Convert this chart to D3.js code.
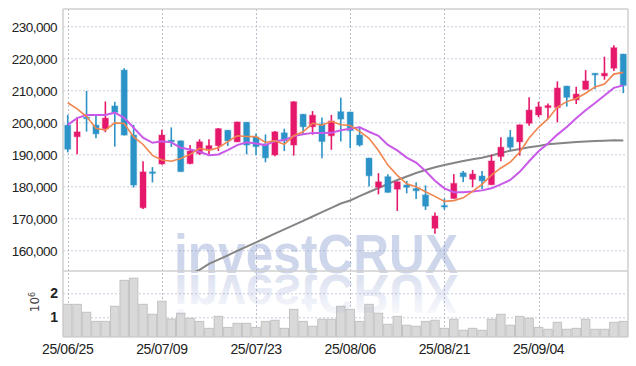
<!DOCTYPE html>
<html><head><meta charset="utf-8">
<script src="https://cdn.jsdelivr.net/npm/d3@7/dist/d3.min.js"></script>
<style>
html,body{margin:0;padding:0;background:#fff;}
svg{display:block;}
</style></head><body>
<svg id="chart" width="636" height="366"></svg>
<script>
// ---- data ----
const dates = ["25/06/25","25/06/26","25/06/27","25/06/30","25/07/01","25/07/02","25/07/03","25/07/04","25/07/07","25/07/08",
"25/07/09","25/07/10","25/07/11","25/07/14","25/07/15","25/07/16","25/07/17","25/07/18","25/07/21","25/07/22",
"25/07/23","25/07/24","25/07/25","25/07/28","25/07/29","25/07/30","25/07/31","25/08/01","25/08/04","25/08/05",
"25/08/06","25/08/07","25/08/08","25/08/11","25/08/12","25/08/13","25/08/14","25/08/18","25/08/19","25/08/20",
"25/08/21","25/08/22","25/08/25","25/08/26","25/08/27","25/08/28","25/08/29","25/09/01","25/09/02","25/09/03",
"25/09/04","25/09/05","25/09/08","25/09/09","25/09/10","25/09/11","25/09/12","25/09/15","25/09/16","25/09/17"];
const openP  = [199100,195500,201600,199100,198000,205100,216300,196000,173300,184500,
187000,194400,194200,187100,190200,191700,192700,197500,193900,200000,
195400,193000,189800,196700,192900,202500,198600,199500,195800,203300,
203200,196000,188800,179700,183000,179100,180400,179300,177300,166900,
174000,176200,184200,182200,183200,180500,189300,195300,193900,199700,
202300,204600,204600,211300,207000,210300,215300,214500,216900,221300];
const highP  = [202300,201500,209800,202400,206500,206400,216900,199200,187800,186000,
197700,198400,194300,192900,194700,194700,198200,197600,200200,200100,
196500,196200,197300,198000,206600,202600,203500,201500,202300,207700,
203300,198700,188900,184100,183800,181500,181700,181300,180300,171800,
176200,183800,184800,185100,184800,189900,195300,197600,199300,207800,
206400,205900,212800,211400,211100,216300,215400,220500,224100,221400];
const lowP   = [190600,190000,197100,195000,196900,192400,195900,179600,172900,181200,
186700,192300,184500,186900,189800,190000,191000,192600,193800,190000,
189700,187500,189400,191000,189600,196000,196100,188800,191400,194000,
191900,192400,179900,177500,178000,172300,177800,176000,172600,165200,
172700,176100,181300,179700,179100,180400,187800,191300,189600,198900,
201600,201000,200000,204900,205700,210200,210300,213300,216000,209100];
const closeP = [191600,197000,201300,196400,201300,203100,196000,180400,184500,184300,
196000,193900,184600,191000,193900,192700,198000,194200,200100,192900,
192400,188900,197000,194200,206400,198600,202200,194000,200400,201000,
197400,192900,183300,181400,178100,181400,179700,178600,173800,170700,
173600,180900,183000,183800,181700,187900,192200,192200,199200,203800,
204800,205200,210700,207800,208800,212900,215000,215300,223300,211500];
const volume = [1540000,1540000,1210000,830000,830000,1460000,2540000,2630000,1540000,1125000,
1670000,930000,1170000,960000,830000,540000,1040000,580000,750000,750000,
580000,830000,875000,540000,1330000,830000,625000,920000,920000,1460000,
1330000,830000,1540000,1170000,710000,1040000,670000,625000,830000,875000,
540000,920000,460000,540000,460000,920000,1125000,670000,1040000,960000,
580000,500000,790000,500000,540000,920000,500000,500000,790000,830000];
const ma5 = [206100,204200,201800,198100,197530,199830,199630,195450,193060,189660,
188240,187820,188660,189960,191880,191220,192040,193960,195780,195580,
195520,193700,194260,193080,195780,197020,199680,199080,200320,199240,
199000,197140,195000,191200,186620,183420,180780,179840,178320,176840,
175280,175520,176400,178400,180600,183460,185720,187560,190640,195060,
198440,201040,204740,206460,207460,209080,211040,211960,215060,215600];
const ma10 = [199200,201300,202300,202300,202300,203000,201400,198300,195200,193600,
194040,193730,192060,191510,190770,189730,189930,191310,192870,193730,
193370,192870,194110,194430,195680,196270,196690,196670,196700,197510,
198010,198410,197040,195760,192930,191210,188960,187420,184760,181730,
179350,178150,178120,178360,178720,179370,180620,181980,184520,187830,
190950,193380,196150,198550,201260,203760,206040,208350,210760,211530];
const ma60 = [null,null,null,null,null,null,null,null,null,null,
null,null,null,152600,153900,155750,157090,158440,159810,161160,
162500,163840,165190,166530,167870,169220,170560,171910,173250,174620,
175560,176910,178220,179470,180720,181970,183060,184160,185090,185940,
186660,187280,187910,188440,188940,189620,190410,191120,191660,192190,
192590,193120,193380,193620,193840,194000,194160,194250,194380,194320];
const priceTicks = [160000,170000,180000,190000,200000,210000,220000,230000];
const volumeTicks = [1000000,2000000];
const dateTicks = ["25/06/25","25/07/09","25/07/23","25/08/06","25/08/21","25/09/04"];

// ---- layout ----
const L = 63, R = 628, T = 9, PB = 271, VB = 337;
const UP = "#e6186b", DOWN = "#2b93c7";
const svg = d3.select("#chart");

const x = d3.scaleBand().domain(dates).range([L, R]).padding(0);
const bw = x.bandwidth();
const cx = d => x(d) + bw / 2;
const y = d3.scaleLinear().domain([153530, 235400]).range([PB, T]);
const yv = d3.scaleLinear().domain([179000, 2929000]).range([VB, PB]);

const defs = svg.append("defs");
defs.append("clipPath").attr("id", "pclip").append("rect")
  .attr("x", L).attr("y", T).attr("width", R - L).attr("height", PB - T);
const grad = defs.append("linearGradient").attr("id", "refl")
  .attr("gradientUnits", "userSpaceOnUse").attr("x1", 0).attr("y1", 0).attr("x2", 0).attr("y2", -40);
grad.append("stop").attr("offset", "0%").attr("stop-color", "rgb(120,140,200)").attr("stop-opacity", 0.26);
grad.append("stop").attr("offset", "100%").attr("stop-color", "rgb(120,140,200)").attr("stop-opacity", 0.03);
const WMFONT = "'Liberation Sans', Arial, sans-serif";
defs.append("text").attr("id", "wmref").attr("x", 0).attr("y", 0).text("investCRUX")
  .attr("font-family", WMFONT).attr("font-weight", "bold")
  .attr("font-size", 50).attr("textLength", 284).attr("lengthAdjust", "spacingAndGlyphs");

// gridlines
const grid = svg.append("g");
grid.selectAll(".hg").data(priceTicks).join("line")
  .attr("x1", L).attr("x2", R).attr("y1", d => y(d) + 0.5).attr("y2", d => y(d) + 0.5)
  .attr("stroke", "#c9c9de").attr("stroke-dasharray", "2,2");
grid.selectAll(".vg").data(volumeTicks).join("line")
  .attr("x1", L).attr("x2", R).attr("y1", d => yv(d) + 0.5).attr("y2", d => yv(d) + 0.5)
  .attr("stroke", "#c9c9de").attr("stroke-dasharray", "2,2");
grid.selectAll(".xg").data(dateTicks).join("line")
  .attr("x1", d => Math.round(cx(d)) + 0.5).attr("x2", d => Math.round(cx(d)) + 0.5)
  .attr("y1", T).attr("y2", VB)
  .attr("stroke", "#bdbdcc").attr("stroke-dasharray", "2,2");

// volume bars
svg.append("g").selectAll("rect").data(dates).join("rect")
  .attr("x", d => x(d) + 0.5).attr("width", bw - 1)
  .attr("y", (d, i) => yv(volume[i])).attr("height", (d, i) => VB - yv(volume[i]))
  .attr("fill", "#d9d9d9").attr("stroke", "#c2c2c2").attr("stroke-width", 1);

// watermark (text + mirrored reflection)
const wm = svg.append("g");
wm.append("text").attr("transform", "translate(174,273) scale(1,1.12)").text("investCRUX")
  .attr("font-family", WMFONT).attr("font-weight", "bold")
  .attr("font-size", 50).attr("textLength", 284).attr("lengthAdjust", "spacingAndGlyphs")
  .attr("fill", "rgb(120,140,200)").attr("fill-opacity", 0.36);
wm.append("use").attr("href", "#wmref")
  .attr("transform", "translate(174,275) scale(1,-1.12)")
  .attr("fill", "url(#refl)");

// frame
const frame = svg.append("g").attr("stroke", "#cfcfcf").attr("stroke-width", 1.5);
frame.append("line").attr("x1", L).attr("x2", R).attr("y1", T).attr("y2", T);
frame.append("line").attr("x1", L).attr("x2", L).attr("y1", T).attr("y2", VB);
frame.append("line").attr("x1", R).attr("x2", R).attr("y1", T).attr("y2", VB);
frame.append("line").attr("x1", L).attr("x2", R).attr("y1", PB).attr("y2", PB);

// MA60
const plot = svg.append("g").attr("clip-path", "url(#pclip)");
const lineOf = arr => d3.line().defined((d, i) => arr[i] != null).x(d => cx(d)).y((d, i) => y(arr[i]));
plot.append("path").datum(dates).attr("d", lineOf(ma60))
  .attr("fill", "none").attr("stroke", "#858585").attr("stroke-width", 2);

// candles
const cg = plot.append("g");
const col = i => closeP[i] >= openP[i] ? UP : DOWN;
cg.selectAll(".wick").data(dates).join("line")
  .attr("x1", d => cx(d)).attr("x2", d => cx(d))
  .attr("y1", (d, i) => y(highP[i])).attr("y2", (d, i) => y(lowP[i]))
  .attr("stroke", (d, i) => col(i)).attr("stroke-width", 1.6);
cg.selectAll(".body").data(dates).join("rect")
  .attr("x", d => cx(d) - 3).attr("width", 6)
  .attr("y", (d, i) => y(Math.max(openP[i], closeP[i])))
  .attr("height", (d, i) => Math.max(1.5, Math.abs(y(openP[i]) - y(closeP[i]))))
  .attr("fill", (d, i) => col(i))
  .attr("stroke", (d, i) => col(i)).attr("stroke-opacity", 0.3).attr("stroke-width", 1.4);

// MA10 & MA5
plot.append("path").datum(dates).attr("d", lineOf(ma10))
  .attr("fill", "none").attr("stroke", "#c95ae8").attr("stroke-width", 2);
plot.append("path").datum(dates).attr("d", lineOf(ma5))
  .attr("fill", "none").attr("stroke", "#f0854e").attr("stroke-width", 1.6);

// axes labels
const FONT = "'Liberation Sans', Arial, sans-serif";
svg.append("g").selectAll("text").data(priceTicks).join("text")
  .attr("x", 57).attr("y", d => y(d) + 5.8).attr("text-anchor", "end")
  .attr("font-family", FONT).attr("font-size", 13.5).attr("letter-spacing", -0.5)
  .attr("fill", "#222").text(d => d3.format(",")(d));
svg.append("g").selectAll("text").data(volumeTicks).join("text")
  .attr("x", 58).attr("y", d => yv(d) + 5.2).attr("text-anchor", "end")
  .attr("font-family", FONT).attr("font-size", 14).attr("font-weight", "bold")
  .attr("fill", "#222").text(d => d / 1e6);
svg.append("g").selectAll("text").data(dateTicks).join("text")
  .attr("x", d => cx(d)).attr("y", 354).attr("text-anchor", "middle")
  .attr("font-family", FONT).attr("font-size", 14).attr("letter-spacing", -0.4)
  .attr("fill", "#222").text(d => d);
const ul = svg.append("text").attr("transform", "translate(39,302) rotate(-90)")
  .attr("text-anchor", "middle").attr("font-family", "DejaVu Sans, sans-serif")
  .attr("font-size", 12).attr("fill", "#444");
ul.append("tspan").text("10");
ul.append("tspan").attr("baseline-shift", "super").attr("font-size", 8).text("6");
</script>
</body></html>
